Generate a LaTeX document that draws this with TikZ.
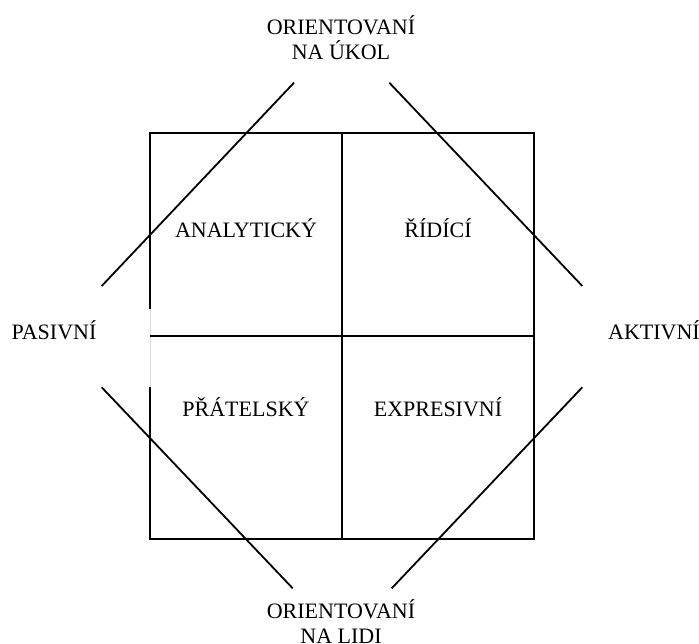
\documentclass[tikz,border=0pt]{standalone}
\usepackage{fontspec}
\setmainfont{Liberation Serif}
\begin{document}
\begin{tikzpicture}[x=1pt,y=-1pt,
  frame/.style={line width=1.8pt, black},
  diag/.style={line width=1.8pt, black},
  gapline/.style={line width=1pt, black!15},
  lbl/.style={font=\fontsize{22}{24.7}\selectfont, inner sep=0pt, anchor=base, align=center}]
\useasboundingbox (0,0) rectangle (699,643);
% frame
\draw[frame] (150,309) -- (150,133) -- (534,133) -- (534,539) -- (150,539) -- (150,387);
\draw[gapline] (150,309) -- (150,387);
\draw[frame] (342,133) -- (342,539);
\draw[frame] (150,336) -- (534,336);
% diagonals
\coordinate (tl1) at (101.7,286);
\coordinate (tl2) at (294,82.7);
\coordinate (tr1) at (389.3,82.7);
\coordinate (tr2) at (582.3,286);
\coordinate (bl1) at (101.7,387.3);
\coordinate (bl2) at (292.7,588.3);
\coordinate (br1) at (582.3,387.3);
\coordinate (br2) at (391.7,588.3);
\draw[diag] (tl1) -- (tl2);
\draw[diag] (tr1) -- (tr2);
\draw[diag] (bl1) -- (bl2);
\draw[diag] (br1) -- (br2);
% labels
\node[lbl] (top) at (341,59) {ORIENTOVANÍ\\NA ÚKOL};
\node[lbl] (bottom) at (341,643) {ORIENTOVANÍ\\NA LIDI};
\node[lbl] (left) at (54,339.3) {PASIVNÍ};
\node[lbl] (right) at (654,339.3) {AKTIVNÍ};
\node[lbl] (an) at (246,237.3) {ANALYTICKÝ};
\node[lbl] (ri) at (438,237.3) {ŘÍDÍCÍ};
\node[lbl] (pr) at (246,416) {PŘÁTELSKÝ};
\node[lbl] (ex) at (438,416) {EXPRESIVNÍ};
\end{tikzpicture}
\end{document}
